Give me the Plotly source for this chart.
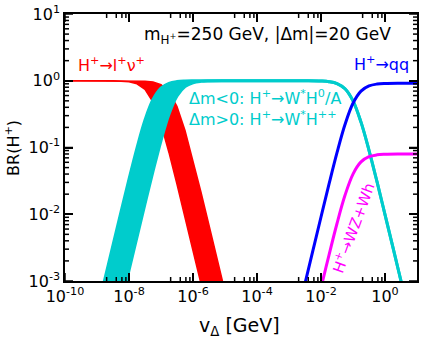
import plotly.graph_objects as go

# log10(v_Delta / GeV) sample points and BR values
logv_red_lo = [-10, -8.5, -8, -7.75, -7.5, -7.25, -7, -6.75, -6.5, -6.25, -6, -5.75, -5.5]
br_red_lo = [1.0, 0.9965, 0.966, 0.901, 0.742, 0.477, 0.224, 0.0836, 0.028, 0.00904, 0.00288, 0.000912, 0.000288]

logv_red_hi = [-10, -8, -7.5, -7.25, -7, -6.75, -6.5, -6.25, -6, -5.75, -5.5, -5.25, -5, -4.75]
br_red_hi = [1.0, 0.9986, 0.9858, 0.956, 0.874, 0.686, 0.409, 0.1795, 0.0647, 0.0214, 0.00687, 0.00218, 0.00069, 0.00022]

logv_cyan_hi = [-9.5, -9, -8.75, -8.5, -8.25, -8, -7.75, -7.5, -7.25, -7, -6.75, -6.5, -6.25, -6, -5.5,
                -3, -2.5, -2, -1.75, -1.5, -1.25, -1, -0.75, -0.5, -0.25, 0, 0.25, 0.5, 0.75]
br_cyan_hi = [3.47e-5, 3.47e-4, 0.001095, 0.00346, 0.01084, 0.0335, 0.0988, 0.258, 0.523, 0.776, 0.916, 0.972, 0.991, 0.997, 0.9997,
              0.9999, 0.999, 0.990, 0.969, 0.909, 0.760, 0.5, 0.240, 0.0909, 0.0307, 0.0099, 0.00316, 0.000999, 0.000316]

logv_cyan_lo = [-9, -8.5, -8, -7.75, -7.5, -7.25, -7, -6.75, -6.5, -6.25, -6, -5.75, -5.5, -5,
                -3, -2.5, -2, -1.75, -1.5, -1.25, -1, -0.75, -0.5, -0.25, 0, 0.25, 0.5, 0.75]
br_cyan_lo = [1.45e-5, 1.445e-4, 0.00144, 0.00455, 0.01424, 0.0437, 0.1263, 0.314, 0.591, 0.820, 0.935, 0.979, 0.993, 0.9993,
              0.9999, 0.999, 0.990, 0.969, 0.909, 0.760, 0.5, 0.240, 0.0909, 0.0307, 0.0099, 0.00316, 0.000999, 0.000316]

logv_qq = [-2.6, -2.5, -2.25, -2, -1.75, -1.5, -1.25, -1, -0.75, -0.5, -0.25, 0, 0.5, 1]
br_qq = [5.8e-4, 9.2e-4, 0.0029, 0.0091, 0.0282, 0.0836, 0.221, 0.46, 0.699, 0.836, 0.892, 0.911, 0.919, 0.92]

logv_wz = [-2.1, -2, -1.75, -1.5, -1.25, -1, -0.75, -0.5, -0.25, 0, 0.5, 1]
br_wz = [5.02e-4, 7.92e-4, 0.00245, 0.00727, 0.0192, 0.04, 0.0608, 0.0727, 0.0776, 0.0792, 0.0799, 0.08]

x_major = [-10, -8, -6, -4, -2, 0]
y_major = [-3, -2, -1, 0, 1]

RED = "#ff0000"
CYAN = "#00cccc"
BLUE = "#0000ff"
MAGENTA = "#ff00ff"
FONT = "DejaVu Sans"

def v(arr):
    return [10 ** a for a in arr]

fig = go.Figure()

# red band H+ -> l+ nu
fig.add_trace(go.Scatter(x=v(logv_red_lo), y=br_red_lo, mode="lines",
                         line=dict(color=RED, width=1.5)))
fig.add_trace(go.Scatter(x=v(logv_red_hi), y=br_red_hi, mode="lines", fill="tonexty",
                         fillcolor=RED, line=dict(color=RED, width=1.5)))

# cyan band H+ -> W* H
fig.add_trace(go.Scatter(x=v(logv_cyan_hi), y=br_cyan_hi, mode="lines",
                         line=dict(color=CYAN, width=3, shape="spline")))
fig.add_trace(go.Scatter(x=v(logv_cyan_lo), y=br_cyan_lo, mode="lines", fill="tonexty",
                         fillcolor=CYAN, line=dict(color=CYAN, width=3, shape="spline")))

fig.add_trace(go.Scatter(x=v(logv_qq), y=br_qq, mode="lines",
                         line=dict(color=BLUE, width=3, shape="spline")))
fig.add_trace(go.Scatter(x=v(logv_wz), y=br_wz, mode="lines",
                         line=dict(color=MAGENTA, width=3, shape="spline")))

# tick marks inside the frame on all four sides, as one line trace
# (plot area: 32 px per decade in x, 66.75 px per decade in y)
x_minor = [k + d for k in range(-9, 0, 2) for d in (0.30103, 0.60206, 0.77815, 0.90309)]
y_minor = [k + d for k in range(-3, 1) for d in (0.30103, 0.47712, 0.60206, 0.69897,
                                                 0.77815, 0.84510, 0.90309, 0.95424)]
tx, ty = [], []
for vals, ln in ((x_major, 8), (x_minor, 4)):
    h = ln / 66.75
    for t in vals:
        tx += [10 ** t, 10 ** t, None, 10 ** t, 10 ** t, None]
        ty += [1e-3, 10 ** (-3 + h), None, 10.0, 10 ** (1 - h), None]
for vals, ln in ((y_major, 8), (y_minor, 4)):
    w = ln / 32
    for t in vals:
        tx += [1e-10, 10 ** (-10 + w), None, 10.0, 10 ** (1 - w), None]
        ty += [10 ** t, 10 ** t, None, 10 ** t, 10 ** t, None]
fig.add_trace(go.Scatter(x=tx, y=ty, mode="lines", line=dict(color="black", width=1.5),
                         hoverinfo="skip", connectgaps=False))

def sup_label(k):
    return "10<sup>%d</sup>" % k

tickfont = dict(family=FONT, size=16, color="black")
common = dict(type="log", showline=True, linecolor="black", linewidth=1.5, mirror="ticks",
              ticks="inside", ticklen=8, tickwidth=1.5, tickcolor="black",
              showgrid=False, zeroline=False, tickfont=tickfont, ticklabeloverflow="allow")

fig.update_xaxes(range=[-10, 1], tickmode="array", tickvals=v(x_major),
                 ticktext=[sup_label(k) for k in x_major], **common)
fig.update_yaxes(range=[-3, 1], tickmode="array", tickvals=v(y_major),
                 ticktext=[sup_label(k) for k in y_major], **common)

def label(text, x, y, color, size=16, xanchor="center", angle=0):
    fig.add_annotation(text=text, x=x, y=y, xref="paper", yref="paper", showarrow=False,
                       xanchor=xanchor, yanchor="middle", textangle=angle,
                       font=dict(family=FONT, size=size, color=color))

# axis titles
label("v<sub>Δ</sub> [GeV]", 0.497, -0.172, "black", size=19)
label("BR(H<sup>+</sup>)", -0.151, 0.498, "black", size=16, angle=-90)

label("m<sub>H<sup>+</sup></sub>=250 GeV, |Δm|=20 GeV", 0.574, 0.918, "black", size=17)
label("H<sup>+</sup>→l<sup>+</sup>ν<sup>+</sup>", 0.131, 0.809, RED)
label("Δm&lt;0: H<sup>+</sup>→W<sup>*</sup>H<sup>0</sup>/A", 0.347, 0.689, CYAN, xanchor="left")
label("Δm&gt;0: H<sup>+</sup>→W<sup>*</sup>H<sup>++</sup>", 0.347, 0.607, CYAN, xanchor="left")
label("H<sup>+</sup>→qq", 0.90, 0.813, BLUE)
label("H<sup>+</sup>→WZ+Wh", 0.818, 0.202, MAGENTA, size=15, angle=-70)

fig.update_layout(width=424, height=342, showlegend=False,
                  margin=dict(l=65, r=7, t=14, b=61, autoexpand=False),
                  plot_bgcolor="white", paper_bgcolor="white",
                  font=dict(family=FONT))

# drop the default page margin so the figure sits in the window's corner
fig.write_html("out.html", config={"displayModeBar": False},
               post_script="document.body.style.margin='0';")
